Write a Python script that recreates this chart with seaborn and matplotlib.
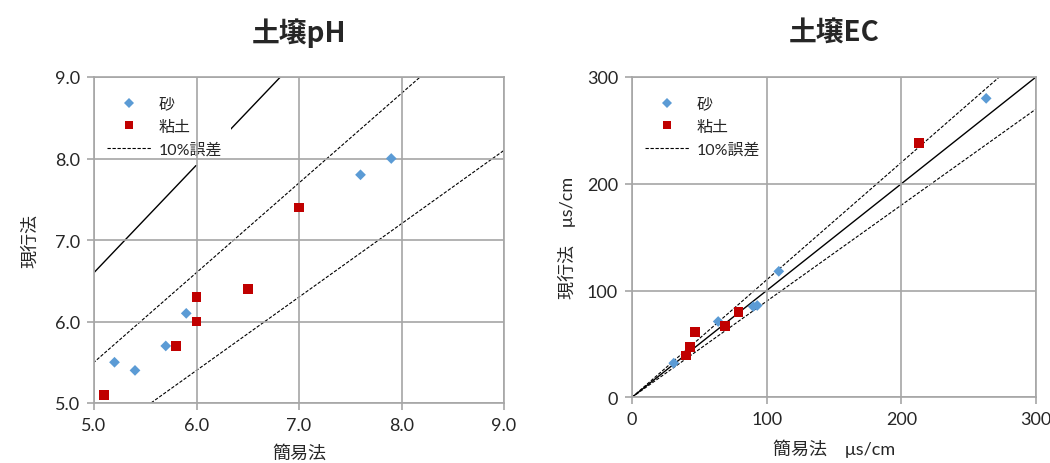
import numpy as np
import pandas as pd
import matplotlib
matplotlib.use("Agg")
import matplotlib.pyplot as plt
import seaborn as sns

# ---- data ----
ph_sand_x = [5.2, 5.4, 5.7, 5.9, 7.6, 7.9]
ph_sand_y = [5.5, 5.4, 5.7, 6.1, 7.8, 8.0]
ph_clay_x = [5.1, 5.8, 6.0, 6.0, 6.5, 7.0]
ph_clay_y = [5.1, 5.7, 6.0, 6.3, 6.4, 7.4]

ec_sand_x = [31, 64, 90, 93, 109, 263]
ec_sand_y = [32, 71, 85, 86, 118, 280]
ec_clay_x = [40, 43, 47, 69, 79, 213]
ec_clay_y = [39, 47, 61, 67, 80, 238]

labels = ["砂", "粘土"]
err_label = "10%誤差"
ph_solid_factor = 1.32   # solid line slope as drawn in the pH chart
ec_solid_factor = 1.0
err_factors = [1.1, 0.9]

ph_ticks = [5.0, 6.0, 7.0, 8.0, 9.0]
ec_ticks = [0, 100, 200, 300]

sns.set_theme(style="white")
plt.rcParams['font.family'] = ['Lato', 'Noto Sans CJK JP', 'DejaVu Sans']

BLUE = "#5b9bd5"
RED = "#c00000"
GRID = "#a6a6a6"

fig = plt.figure(figsize=(10.5, 4.64), dpi=100)
ax1 = fig.add_axes([94/1050, 1-404/464, 410/1050, 326/464])
ax2 = fig.add_axes([632/1050, 1-398.3/464, 404/1050, 320.3/464])


def make_df(sx, sy, cx, cy):
    return pd.DataFrame({
        "x": list(sx) + list(cx),
        "y": list(sy) + list(cy),
        "type": [labels[0]] * len(sx) + [labels[1]] * len(cx),
    })


def draw(ax, df, solid, ticks, lim, ref_x, fmt, title, xlabel, ylabel,
         ylab_pad, leg_anchor):
    for f in err_factors:
        ax.plot(ref_x, [f * v for v in ref_x], color="black", lw=0.8,
                ls=(0, (3, 1.5)), zorder=2,
                label=err_label if f == err_factors[0] else "_nolegend_")
    ax.plot(ref_x, [solid * v for v in ref_x], color="black", lw=1.0,
            zorder=2, label="_nolegend_")
    sns.scatterplot(data=df, x="x", y="y", hue="type", style="type",
                    size="type",
                    hue_order=labels, style_order=labels, size_order=labels,
                    palette={labels[0]: BLUE, labels[1]: RED},
                    markers={labels[0]: "D", labels[1]: "s"},
                    sizes={labels[0]: 30, labels[1]: 48},
                    edgecolor="none", linewidth=0,
                    ax=ax, zorder=3, legend=True)
    ax.set_xlim(lim)
    ax.set_ylim(lim)
    ax.set_xticks(ticks)
    ax.set_yticks(ticks)
    ax.set_xticklabels([fmt.format(t) for t in ticks])
    ax.set_yticklabels([fmt.format(t) for t in ticks])
    ax.grid(True, color=GRID, lw=1.2)
    ax.set_axisbelow(False)   # grid above reference lines and legend box
    for sp in ax.spines.values():
        sp.set_color(GRID)
        sp.set_linewidth(1.2)
    ax.tick_params(axis="both", which="major", direction="out", length=5,
                   width=1.2, color=GRID, labelsize=13, labelcolor="#262626",
                   bottom=True, left=True, pad=5)
    ax.set_title(title, fontsize=20, fontweight="bold",
                 family=['Noto Sans CJK JP', 'DejaVu Sans'], pad=26)
    ax.set_xlabel(xlabel, fontsize=13, labelpad=8, color="#262626")
    ax.set_ylabel(ylabel, fontsize=13, labelpad=ylab_pad, color="#262626")

    handles, labs = ax.get_legend_handles_labels()
    order = [labs.index(labels[0]), labs.index(labels[1]), labs.index(err_label)]
    leg = ax.legend([handles[i] for i in order], [labs[i] for i in order],
                    loc="upper left", bbox_to_anchor=leg_anchor,
                    borderaxespad=0.1, frameon=True, fancybox=False,
                    facecolor="white", edgecolor="none", framealpha=1,
                    fontsize=11.5, handlelength=2.7, handletextpad=0.5,
                    labelspacing=0.5, borderpad=0.55, markerscale=0.85)
    leg.set_zorder(2.2)


df_ph = make_df(ph_sand_x, ph_sand_y, ph_clay_x, ph_clay_y)
df_ec = make_df(ec_sand_x, ec_sand_y, ec_clay_x, ec_clay_y)

draw(ax1, df_ph, ph_solid_factor, ph_ticks, (5.0, 9.0), [0, 10], "{:.1f}",
     "土壌pH", "簡易法", "現行法", 12, (3/410, 1 - 10/326))
draw(ax2, df_ec, ec_solid_factor, ec_ticks, (0, 300), [0, 400], "{:.0f}",
     "土壌EC", "簡易法　μs/cm", "現行法　μs/cm", 8, (3/404, 1 - 10/320))

fig.savefig("out.png", dpi=100)
